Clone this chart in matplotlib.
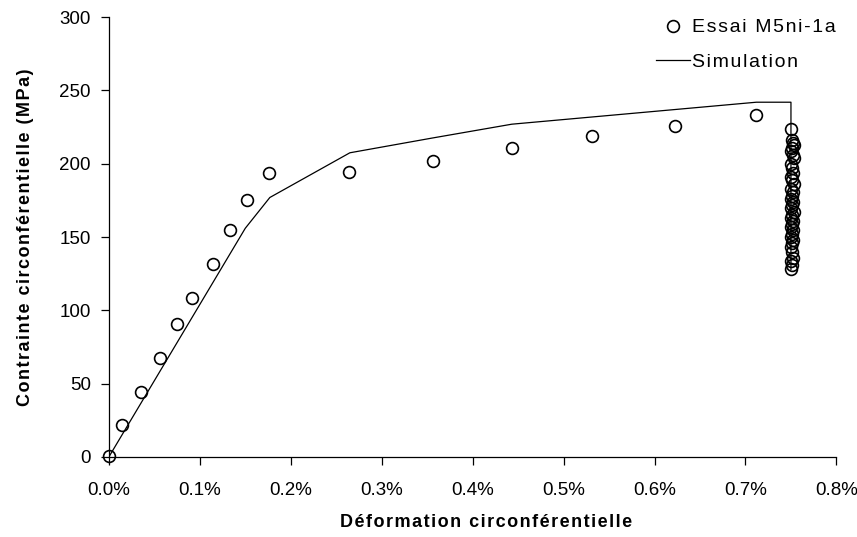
import numpy as np
import matplotlib
matplotlib.use('Agg')
import matplotlib.pyplot as plt
from matplotlib.ticker import PercentFormatter, MultipleLocator

plt.rcParams['font.family'] = ['Liberation Sans', 'DejaVu Sans']

# essai : deformation (%) et contrainte (MPa)
essai_def = [0.0, 0.0145, 0.035, 0.056, 0.0745, 0.091, 0.1145, 0.133, 0.152, 0.176,
             0.264, 0.356, 0.443, 0.531, 0.622, 0.712]
essai_sig = [1, 21.5, 44.5, 67.5, 90.5, 108.5, 131.5, 155, 175.5, 193.5,
             194.5, 202, 211, 219, 225.5, 233]

# points de la rupture (a 0.75 %)
rupt_def = [0.750, 0.751, 0.752, 0.753, 0.751, 0.750, 0.752, 0.753, 0.750, 0.751,
            0.752, 0.750, 0.751, 0.753, 0.750, 0.752, 0.751, 0.750, 0.752, 0.751,
            0.750, 0.753, 0.751, 0.750, 0.752, 0.751, 0.750, 0.752, 0.751, 0.750,
            0.752, 0.751, 0.750, 0.751, 0.752, 0.750, 0.751, 0.750]
rupt_sig = [224, 216, 214, 213, 211, 209, 206, 204, 200, 197,
            194, 191, 189, 186, 183, 181, 178, 176, 174, 172,
            170, 167, 165, 163, 161, 159, 157, 155, 152, 150,
            148, 146, 143, 140, 136, 134, 131, 128]

# simulation
simu_def = [0.0, 0.15, 0.177, 0.265, 0.355, 0.443, 0.712, 0.75, 0.75]
simu_sig = [0, 156, 177, 207.5, 217.5, 227, 242, 242, 128]


def espace(s):
    # espacement des lettres facon Excel (hair space entre les caracteres)
    return '\u200a'.join(s)


fig = plt.figure(figsize=(8.57, 5.37), dpi=100)
ax = fig.add_axes([0.127, 0.149, 0.849, 0.819])

ax.plot(simu_def, simu_sig, '-', color='black', lw=0.9, label=espace('Simulation'), zorder=2)
ax.plot(essai_def + rupt_def, essai_sig + rupt_sig, 'o', ms=8.5, mfc='none',
        mec='black', mew=1.2, label=espace('Essai M5ni-1a'), zorder=3, clip_on=False)

ax.set_xlim(0, 0.8)
ax.set_ylim(0, 300)
ax.xaxis.set_major_locator(MultipleLocator(0.1))
ax.yaxis.set_major_locator(MultipleLocator(50))
ax.xaxis.set_major_formatter(PercentFormatter(xmax=100, decimals=1))

ax.spines['top'].set_visible(False)
ax.spines['right'].set_visible(False)
ax.spines['left'].set_linewidth(0.9)
ax.spines['bottom'].set_linewidth(0.9)
ax.tick_params(axis='both', direction='out', length=6, width=0.9, labelsize=13.5)
ax.tick_params(axis='x', pad=12)
ax.tick_params(axis='y', pad=7)

ax.set_xlabel(espace('Déformation circonférentielle'), fontsize=13, fontweight='bold', labelpad=10)
ax.xaxis.set_label_coords(0.519, -0.13)
ax.set_ylabel(espace('Contrainte circonférentielle (MPa)'), fontsize=13, fontweight='bold', labelpad=18)

h, l = ax.get_legend_handles_labels()
ax.legend(h[::-1], l[::-1], loc='upper left', bbox_to_anchor=(0.766, 0.965),
          bbox_transform=fig.transFigure, frameon=False, borderpad=0, borderaxespad=0,
          fontsize=14, handlelength=1.7, handletextpad=0.15, labelspacing=0.85)

fig.savefig('out.png', dpi=100)
